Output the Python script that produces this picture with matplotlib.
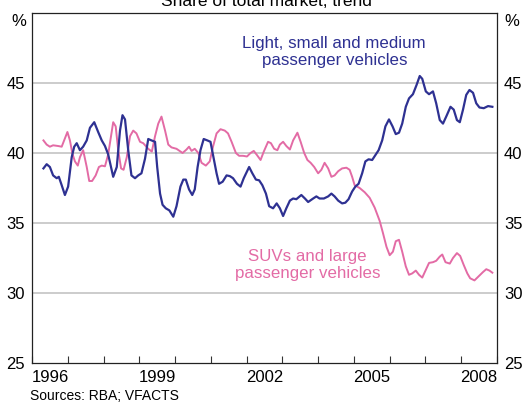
import matplotlib
matplotlib.use("Agg")
import matplotlib.pyplot as plt

plt.rcParams["font.family"] = ["Liberation Sans", "DejaVu Sans"]

# Light, small and medium passenger vehicles (share of total market, %)
fechas_ligeros = [
    1996.32, 1996.41, 1996.50, 1996.59, 1996.69, 1996.75, 1996.83, 1996.92, 1997.01, 1997.11,
    1997.18, 1997.25, 1997.34, 1997.43, 1997.53, 1997.62, 1997.74, 1997.85, 1997.95, 1998.04,
    1998.13, 1998.21, 1998.27, 1998.37, 1998.46, 1998.53, 1998.60, 1998.69, 1998.78, 1998.88,
    1998.97, 1999.06, 1999.16, 1999.25, 1999.34, 1999.44, 1999.50, 1999.58, 1999.65, 1999.74,
    1999.84, 1999.95, 2000.04, 2000.15, 2000.23, 2000.30, 2000.39, 2000.48, 2000.55, 2000.63,
    2000.71, 2000.80, 2000.90, 2000.99, 2001.08, 2001.16, 2001.23, 2001.33, 2001.44, 2001.53,
    2001.62, 2001.73, 2001.83, 2001.92, 2002.07, 2002.16, 2002.26, 2002.35, 2002.44, 2002.54,
    2002.63, 2002.74, 2002.84, 2002.93, 2003.02, 2003.11, 2003.21, 2003.30, 2003.39, 2003.53,
    2003.63, 2003.72, 2003.86, 2003.95, 2004.04, 2004.16, 2004.28, 2004.37, 2004.46, 2004.56,
    2004.67, 2004.76, 2004.85, 2004.95, 2005.04, 2005.13, 2005.23, 2005.32, 2005.41, 2005.51,
    2005.60, 2005.69, 2005.79, 2005.88, 2005.98, 2006.08, 2006.17, 2006.26, 2006.35, 2006.45,
    2006.54, 2006.65, 2006.75, 2006.84, 2006.91, 2007.01, 2007.10, 2007.21, 2007.30, 2007.40,
    2007.49, 2007.58, 2007.70, 2007.79, 2007.88, 2007.96, 2008.05, 2008.14, 2008.23, 2008.33,
    2008.42, 2008.51, 2008.63, 2008.75, 2008.87,
]
ligeros = [
    38.9, 39.2, 39.0, 38.4, 38.2, 38.3, 37.7, 37.0, 37.6, 39.7,
    40.45, 40.7, 40.2, 40.45, 40.9, 41.8, 42.2, 41.5, 40.9, 40.5,
    39.9, 39.0, 38.3, 39.0, 41.6, 42.7, 42.4, 40.2, 38.4, 38.2,
    38.4, 38.55, 39.6, 41.0, 40.9, 40.8, 39.0, 37.1, 36.3, 36.05,
    35.9, 35.45, 36.2, 37.6, 38.1, 38.1, 37.4, 37.0, 37.4, 39.0,
    40.2, 41.0, 40.9, 40.8, 39.6, 38.55, 37.8, 37.95, 38.4, 38.35,
    38.2, 37.8, 37.6, 38.2, 39.0, 38.55, 38.1, 38.05, 37.7, 37.1,
    36.2, 36.05, 36.4, 36.05, 35.5, 36.05, 36.6, 36.75, 36.7, 37.0,
    36.75, 36.5, 36.75, 36.9, 36.75, 36.75, 36.9, 37.1, 36.9, 36.6,
    36.4, 36.45, 36.7, 37.25, 37.6, 37.8, 38.55, 39.4, 39.55, 39.5,
    39.85, 40.2, 40.9, 41.9, 42.4, 41.9, 41.35, 41.45, 42.1, 43.3,
    43.9, 44.2, 44.85, 45.5, 45.3, 44.4, 44.2, 44.4, 43.55, 42.35,
    42.1, 42.6, 43.3, 43.1, 42.35, 42.2, 43.1, 44.15, 44.5, 44.3,
    43.55, 43.25, 43.2, 43.35, 43.3,
]

# SUVs and large passenger vehicles (share of total market, %)
fechas_suv = [
    1996.32, 1996.41, 1996.50, 1996.59, 1996.73, 1996.83, 1996.92, 1996.99, 1997.06, 1997.13,
    1997.20, 1997.28, 1997.34, 1997.43, 1997.53, 1997.60, 1997.68, 1997.78, 1997.87, 1997.95,
    1998.04, 1998.13, 1998.21, 1998.27, 1998.34, 1998.41, 1998.49, 1998.56, 1998.65, 1998.74,
    1998.83, 1998.92, 1999.02, 1999.11, 1999.25, 1999.35, 1999.44, 1999.53, 1999.62, 1999.72,
    1999.81, 1999.90, 2000.04, 2000.21, 2000.32, 2000.39, 2000.46, 2000.55, 2000.65, 2000.74,
    2000.86, 2000.97, 2001.06, 2001.16, 2001.27, 2001.39, 2001.48, 2001.58, 2001.70, 2001.79,
    2001.90, 2002.01, 2002.11, 2002.20, 2002.29, 2002.39, 2002.48, 2002.60, 2002.68, 2002.77,
    2002.86, 2002.93, 2003.02, 2003.11, 2003.21, 2003.30, 2003.42, 2003.51, 2003.61, 2003.70,
    2003.79, 2003.89, 2004.00, 2004.09, 2004.18, 2004.28, 2004.37, 2004.46, 2004.56, 2004.67,
    2004.79, 2004.88, 2004.95, 2005.02, 2005.16, 2005.30, 2005.44, 2005.58, 2005.72, 2005.81,
    2005.91, 2006.00, 2006.09, 2006.17, 2006.26, 2006.35, 2006.45, 2006.54, 2006.63, 2006.73,
    2006.82, 2006.91, 2007.01, 2007.10, 2007.21, 2007.30, 2007.40, 2007.47, 2007.56, 2007.68,
    2007.77, 2007.88, 2007.97, 2008.07, 2008.17, 2008.25, 2008.37, 2008.49, 2008.61, 2008.70,
    2008.79, 2008.87,
]
suv = [
    40.9, 40.6, 40.45, 40.55, 40.5, 40.45, 41.05, 41.5, 40.9, 39.95,
    39.4, 39.1, 39.7, 40.2, 39.0, 38.0, 38.0, 38.4, 39.0, 39.1,
    39.05, 39.9, 41.2, 42.2, 41.9, 40.2, 38.9, 38.8, 39.7, 41.2,
    41.6, 41.4, 40.8, 40.7, 40.3, 40.1, 41.2, 42.1, 42.6, 41.6,
    40.6, 40.4, 40.3, 40.0, 40.25, 40.45, 40.15, 40.3, 40.0, 39.3,
    39.1, 39.4, 40.45, 41.4, 41.7, 41.6, 41.4, 40.8, 40.0, 39.8,
    39.8, 39.75, 40.0, 40.15, 39.85, 39.5, 40.1, 40.8, 40.7, 40.3,
    40.2, 40.6, 40.8, 40.5, 40.25, 40.9, 41.45, 40.8, 40.0, 39.5,
    39.3, 39.0, 38.55, 38.8, 39.3, 38.9, 38.3, 38.4, 38.7, 38.9,
    38.95, 38.8, 38.3, 37.7, 37.5, 37.2, 36.8, 36.1, 35.15, 34.3,
    33.3, 32.7, 32.95, 33.7, 33.8, 32.95, 31.9, 31.3, 31.4, 31.6,
    31.3, 31.1, 31.65, 32.15, 32.2, 32.3, 32.6, 32.75, 32.2, 32.1,
    32.5, 32.85, 32.65, 32.0, 31.4, 31.05, 30.9, 31.2, 31.5, 31.7,
    31.6, 31.45,
]

anios_etiqueta = [1996, 1999, 2002, 2005, 2008]
valores_y = [25, 30, 35, 40, 45]

azul = "#2e3192"
rosa = "#e36ba5"

fig = plt.figure(figsize=(5.32, 4.04), dpi=100)
ax = fig.add_axes([32 / 532, 1 - 363 / 404, 465 / 532, 350 / 404])

# gridlines
for v in [30, 35, 40, 45]:
    ax.axhline(v, color="#c4c4c4", lw=1.2, zorder=1)

ax.plot(fechas_ligeros, ligeros, color=azul, lw=1.6, zorder=3)
ax.plot(fechas_suv, suv, color=rosa, lw=1.4, zorder=2)

ax.set_xlim(1996, 2009)
ax.set_ylim(25, 50)

# year boundaries as ticks, labels centred in the year
ax.set_xticks(range(1996, 2010))
ax.set_xticklabels([])
ax.set_xticks([a + 0.5 for a in anios_etiqueta], minor=True)
ax.set_xticklabels([str(a) for a in anios_etiqueta], minor=True)
ax.tick_params(axis="x", which="major", direction="in", length=5, width=0.8, color="#333333")
ax.tick_params(axis="x", which="minor", length=0, pad=5, labelsize=12)

ax.set_yticks(valores_y)
ax.tick_params(axis="y", length=0, pad=5, labelsize=12, labelleft=True, labelright=True)

for s in ax.spines.values():
    s.set_linewidth(0.9)
    s.set_color("#222222")

ax.text(2004.45, 47.2, "Light, small and medium\npassenger vehicles", color=azul,
        fontsize=12.2, ha="center", va="center", linespacing=1.15)
ax.text(2003.7, 32.0, "SUVs and large\npassenger vehicles", color=rosa,
        fontsize=12.2, ha="center", va="center", linespacing=1.15)

fig.text(0.5, 1 - 6 / 404, "Share of total market, trend", fontsize=12.5,
         ha="center", va="baseline")
fig.text(18.5 / 532, 1 - 21 / 404, "%", fontsize=12, ha="center", va="center")
fig.text(512 / 532, 1 - 21 / 404, "%", fontsize=12, ha="center", va="center")
fig.text(30 / 532, 1 - 396 / 404, "Sources: RBA; VFACTS", fontsize=10,
         ha="left", va="center")

fig.savefig("out.png", dpi=100)
